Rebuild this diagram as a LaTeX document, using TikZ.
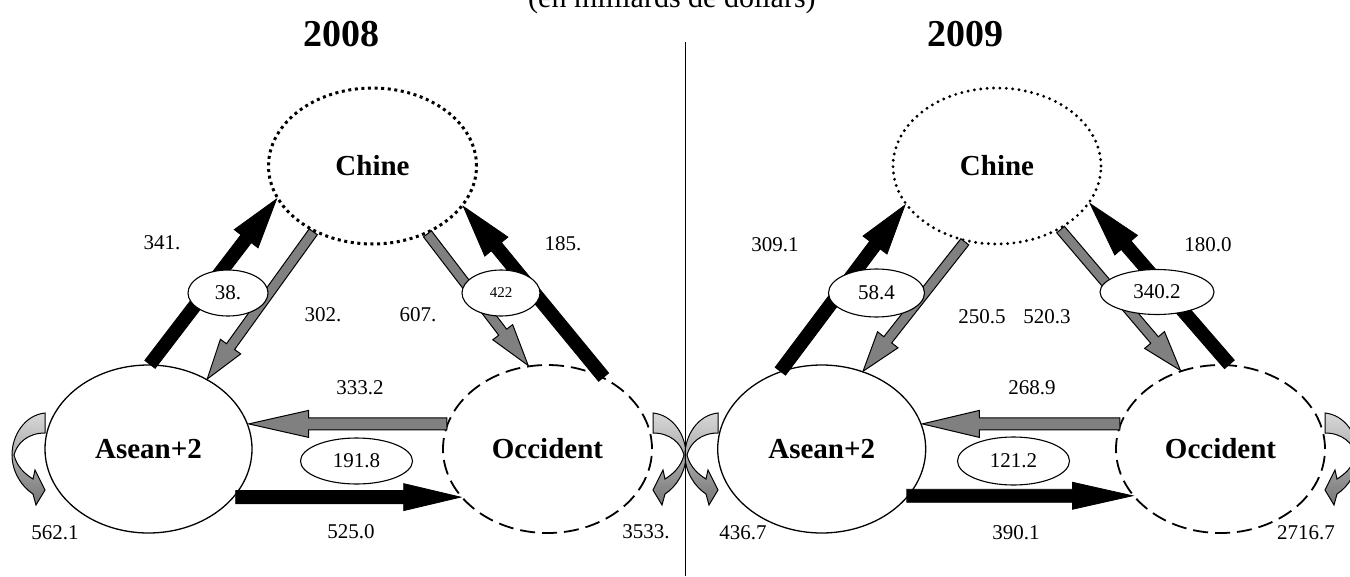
\documentclass[tikz,border=0pt]{standalone}
\usepackage{fontspec}
\setmainfont{Liberation Serif}
\usetikzlibrary{shapes.geometric,calc}
\definecolor{arrgray}{HTML}{808080}
\definecolor{loopA}{HTML}{D8D8D8}
\definecolor{loopB}{HTML}{767676}
\newcommand{\blockarrow}[6]{%
  \path[#6] let \p1=(#1), \p2=(#2), \n1={atan2(\y2-\y1,\x2-\x1)}, \n2={veclen(\x2-\x1,\y2-\y1)-#5} in
    (\p1) -- ++(\n1+90:#3/2) -- ++(\n1:\n2) -- ++(\n1+90:#4/2-#3/2) -- (\p2)
    -- ($(\p2)+(\n1+180:#5)+(\n1-90:#4/2)$) -- ++(\n1+90:#4/2-#3/2)
    -- ($(\p1)+(\n1-90:#3/2)$) -- cycle;}
\tikzset{
  country/.style={ellipse, inner sep=0pt, font=\bfseries\fontsize{29}{30}\selectfont},
  chinebox/.style={country, minimum width=208, minimum height=156},
  aseanbox/.style={country, draw, line width=1.3pt, minimum width=207, minimum height=168},
  occbox/.style={country, draw, line width=1.8pt, dash pattern=on 15pt off 7pt, minimum width=209, minimum height=168},
  oval/.style={ellipse, draw, line width=1.1pt, fill=white, inner sep=0pt, font=\fontsize{21}{24}\selectfont},
  num/.style={font=\fontsize{21}{24}\selectfont, inner sep=0pt},
  title/.style={font=\bfseries\fontsize{38}{40}\selectfont, inner sep=0pt},
  blackarr/.style={fill=black, draw=black, line width=0.8pt},
  grayarr/.style={fill=arrgray, draw=black, line width=1pt},
  selfloop/.pic={
    \path[draw=black, line width=1pt, top color=loopA, bottom color=loopB]
      (0,0) .. controls (-20,-2) and (-33,-22) .. (-33,-42)
      .. controls (-33,-59) and (-23,-74) .. (-12,-81)
      -- (-9,-92) -- (0,-77) -- (-10,-57) -- (-12,-66)
      .. controls (-20,-61) and (-28,-54) .. (-31,-42)
      .. controls (-28,-30) and (-17,-20) .. (0,-20) -- cycle;
  }
}
\begin{document}
\begin{tikzpicture}[x=1pt,y=1pt]
\useasboundingbox (0,0) rectangle (1350,-576);
% titles
\node[font=\fontsize{30}{32}\selectfont, anchor=base west, inner sep=0pt] (sub) at (528,-7) {(en milliards de dollars)};
\node[title] (t2008) at (341,-34) {2008};
\node[title] (t2009) at (965,-34) {2009};

% ---------- 2008 ----------
\node[chinebox, draw, line width=3pt, dash pattern=on 3pt off 3.6pt] (C1) at (372.5,-166) {Chine};
\node[aseanbox] (A1) at (148.5,-449) {Asean+2};
\node[occbox] (O1) at (547.5,-449) {Occident};

\blockarrow{A1.89}{C1.199}{13}{30}{50}{blackarr}
\blockarrow{C1.228}{A1.50.5}{10}{25}{40}{grayarr}
\blockarrow{C1.309}{O1.103.4}{10}{25}{42}{grayarr}
\blockarrow{O1.52.9}{C1.336}{13}{30}{52}{blackarr}
\blockarrow{O1.166.5}{A1.13 |- O1.166.5}{12}{27}{60}{grayarr}
\blockarrow{A1.-28.5 |- O1.209.3}{O1.209.3}{13}{27}{57}{blackarr}

\node[oval, minimum width=80, minimum height=46] (o38) at (228,-293) {38.};
\node[oval, minimum width=78, minimum height=46, font=\fontsize{15}{17}\selectfont] (o422) at (501,-293) {422};
\node[oval, minimum width=112, minimum height=46] (o191) at (356.5,-461) {191.8};

\node[num] (n341) at (162,-243) {341.};
\node[num] (n302) at (323,-315) {302.};
\node[num] (n607) at (418,-315) {607.};
\node[num] (n185) at (563,-244) {185.};
\node[num] (n333) at (360,-388) {333.2};
\node[num] (n525) at (351,-532) {525.0};
\node[num] (n562) at (55,-533) {562.1};
\node[num] (n3533) at (646,-532) {3533.};

\pic at (45,-413) {selfloop};
\pic[xscale=-1] at (653,-413) {selfloop};

% ---------- 2009 ----------
\node[chinebox, draw, line width=3.2pt, line cap=round, dash pattern=on 0pt off 6.4pt] (C2) at (997,-166) {Chine};
\node[aseanbox, minimum width=208] (A2) at (821.7,-449) {Asean+2};
\node[occbox] (O2) at (1220.5,-449) {Occident};

\blockarrow{A2.118.8}{C2.203.7}{13}{30}{50}{blackarr}
\blockarrow{C2.247.2}{A2.62.4}{10}{26}{40}{grayarr}
\blockarrow{C2.315.5}{O2.117.1}{10}{26}{40}{grayarr}
\blockarrow{O2.84.8}{C2.338.9}{13}{30}{55}{blackarr}
\blockarrow{O2.166.9}{A2.13 |- O2.166.9}{12}{27}{57}{grayarr}
\blockarrow{A2.-30.9 |- O2.208.7}{O2.208.7}{13}{27}{60}{blackarr}

\node[oval, minimum width=96, minimum height=48] (o58) at (876.5,-293) {58.4};
\node[oval, minimum width=114, minimum height=45] (o340) at (1157,-292) {340.2};
\node[oval, minimum width=112, minimum height=48] (o121) at (1013.5,-461) {121.2};

\node[num] (n309) at (775,-245) {309.1};
\node[num] (n250) at (982,-317) {250.5};
\node[num] (n520) at (1047,-317) {520.3};
\node[num] (n180) at (1208,-245) {180.0};
\node[num] (n268) at (1032,-388) {268.9};
\node[num] (n390) at (1016,-533) {390.1};
\node[num] (n436) at (743,-533) {436.7};
\node[num] (n2716) at (1306,-533) {2716.7};

\pic at (718,-413) {selfloop};
\pic[xscale=-1] at (1325,-413) {selfloop};

% divider
\coordinate (divtop) at (685.5,-42);
\coordinate (divbot) at (685.5,-576);
\draw[line width=1.3pt] (divtop) -- (divbot);
\end{tikzpicture}
\end{document}
